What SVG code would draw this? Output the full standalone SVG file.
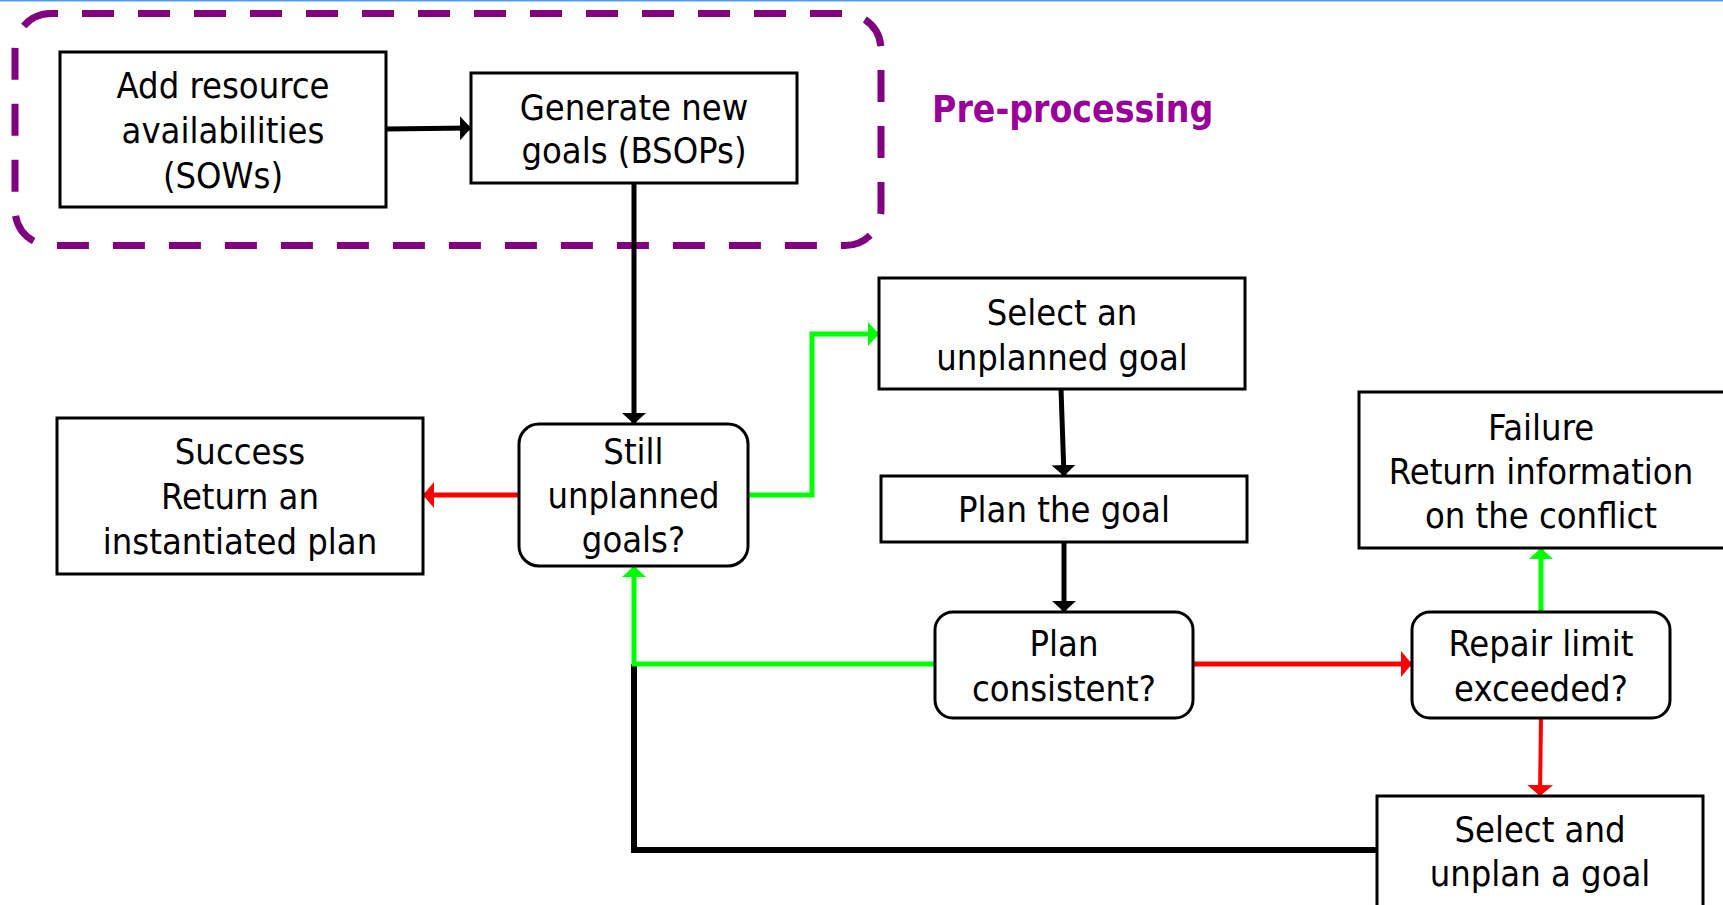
<svg xmlns="http://www.w3.org/2000/svg" width="1723" height="905" viewBox="0 0 1723 905">
<style>
.box{fill:#fff;stroke:#000;stroke-width:3}
.t{font-family:'DejaVu Sans Condensed','DejaVu Sans',sans-serif;font-stretch:condensed;font-size:36px;fill:#000;text-anchor:middle}
.pre{font-family:'DejaVu Sans Condensed','DejaVu Sans',sans-serif;font-stretch:condensed;font-weight:bold;font-size:37px;fill:#990099}
.k{fill:none;stroke:#000;stroke-width:5}
.r{fill:none;stroke:#ff0000;stroke-width:5}
.g{fill:none;stroke:#00ff00;stroke-width:5}
</style>
<defs>
<marker id="ak" markerUnits="userSpaceOnUse" markerWidth="12" markerHeight="26" refX="11" refY="12" orient="auto" viewBox="0 0 12 26"><path d="M0,0 L11,12 L0,24 z" fill="#000"/></marker>
<marker id="ar" markerUnits="userSpaceOnUse" markerWidth="12" markerHeight="28" refX="11" refY="13" orient="auto" viewBox="0 0 12 28"><path d="M0,0 L11,13 L0,26 z" fill="#ff0000"/></marker>
<marker id="ag" markerUnits="userSpaceOnUse" markerWidth="12" markerHeight="26" refX="11" refY="12" orient="auto" viewBox="0 0 12 26"><path d="M0,0 L11,12 L0,24 z" fill="#00ff00"/></marker>
</defs>
<rect x="0" y="0" width="1723" height="1.5" fill="#4d9ff5"/>
<g id="preprocessing">
<rect x="15" y="13.5" width="866" height="232" rx="36" ry="36" fill="none" stroke="#800080" stroke-width="7" stroke-dasharray="32 24" stroke-dashoffset="25"/>
<text class="pre" x="932" y="122">Pre-processing</text>
</g>
<g id="connectors">
<path class="k" d="M386,129 L471,128" marker-end="url(#ak)"/>
<path class="k" d="M634,184 L634,424" marker-end="url(#ak)"/>
<path class="r" d="M519,495 L423,495" marker-end="url(#ar)"/>
<path class="g" d="M748,495 L812,495 L812,334 L879,334" marker-end="url(#ag)"/>
<path class="k" d="M1061,389 L1064,476" marker-end="url(#ak)"/>
<path class="k" d="M1064,542 L1064,612" marker-end="url(#ak)"/>
<path class="k" style="stroke-width:6" d="M1377,850 L634,850 L634,664"/>
<path class="g" d="M935,664 L634,664 L634,566" marker-end="url(#ag)"/>
<path class="r" d="M1193,664 L1412,664" marker-end="url(#ar)"/>
<path class="g" d="M1541,612 L1541,548" marker-end="url(#ag)"/>
<path class="r" style="stroke-width:4" d="M1541,718 L1540,796" marker-end="url(#ar)"/>
</g>
<g id="add-resource">
<rect class="box" x="60" y="52" width="326" height="155"/>
<text class="t" x="223" y="98">Add resource</text>
<text class="t" x="223" y="143">availabilities</text>
<text class="t" x="223" y="188">(SOWs)</text>
</g>
<g id="generate-goals">
<rect class="box" x="471" y="73" width="326" height="110"/>
<text class="t" x="634" y="120">Generate new</text>
<text class="t" x="634" y="163">goals (BSOPs)</text>
</g>
<g id="still-unplanned">
<rect class="box" x="519" y="424" width="229" height="142" rx="20" ry="20"/>
<text class="t" x="633.5" y="464">Still</text>
<text class="t" x="633.5" y="508">unplanned</text>
<text class="t" x="633.5" y="552">goals?</text>
</g>
<g id="success">
<rect class="box" x="57" y="418" width="366" height="156"/>
<text class="t" x="240" y="464">Success</text>
<text class="t" x="240" y="509">Return an</text>
<text class="t" x="240" y="554">instantiated plan</text>
</g>
<g id="select-goal">
<rect class="box" x="879" y="278" width="366" height="111"/>
<text class="t" x="1062" y="325">Select an</text>
<text class="t" x="1062" y="370">unplanned goal</text>
</g>
<g id="plan-goal">
<rect class="box" x="881" y="476" width="366" height="66"/>
<text class="t" x="1064" y="522">Plan the goal</text>
</g>
<g id="plan-consistent">
<rect class="box" x="935" y="612" width="258" height="106" rx="18" ry="18"/>
<text class="t" x="1064" y="656">Plan</text>
<text class="t" x="1064" y="701">consistent?</text>
</g>
<g id="repair-limit">
<rect class="box" x="1412" y="612" width="258" height="106" rx="18" ry="18"/>
<text class="t" x="1541" y="656">Repair limit</text>
<text class="t" x="1541" y="701">exceeded?</text>
</g>
<g id="failure">
<rect class="box" x="1359" y="392" width="370" height="156"/>
<text class="t" x="1541" y="440">Failure</text>
<text class="t" x="1541" y="484">Return information</text>
<text class="t" x="1541" y="528">on the conflict</text>
</g>
<g id="select-unplan">
<rect class="box" x="1377" y="796" width="326" height="120"/>
<text class="t" x="1540" y="842">Select and</text>
<text class="t" x="1540" y="886">unplan a goal</text>
</g>
</svg>
